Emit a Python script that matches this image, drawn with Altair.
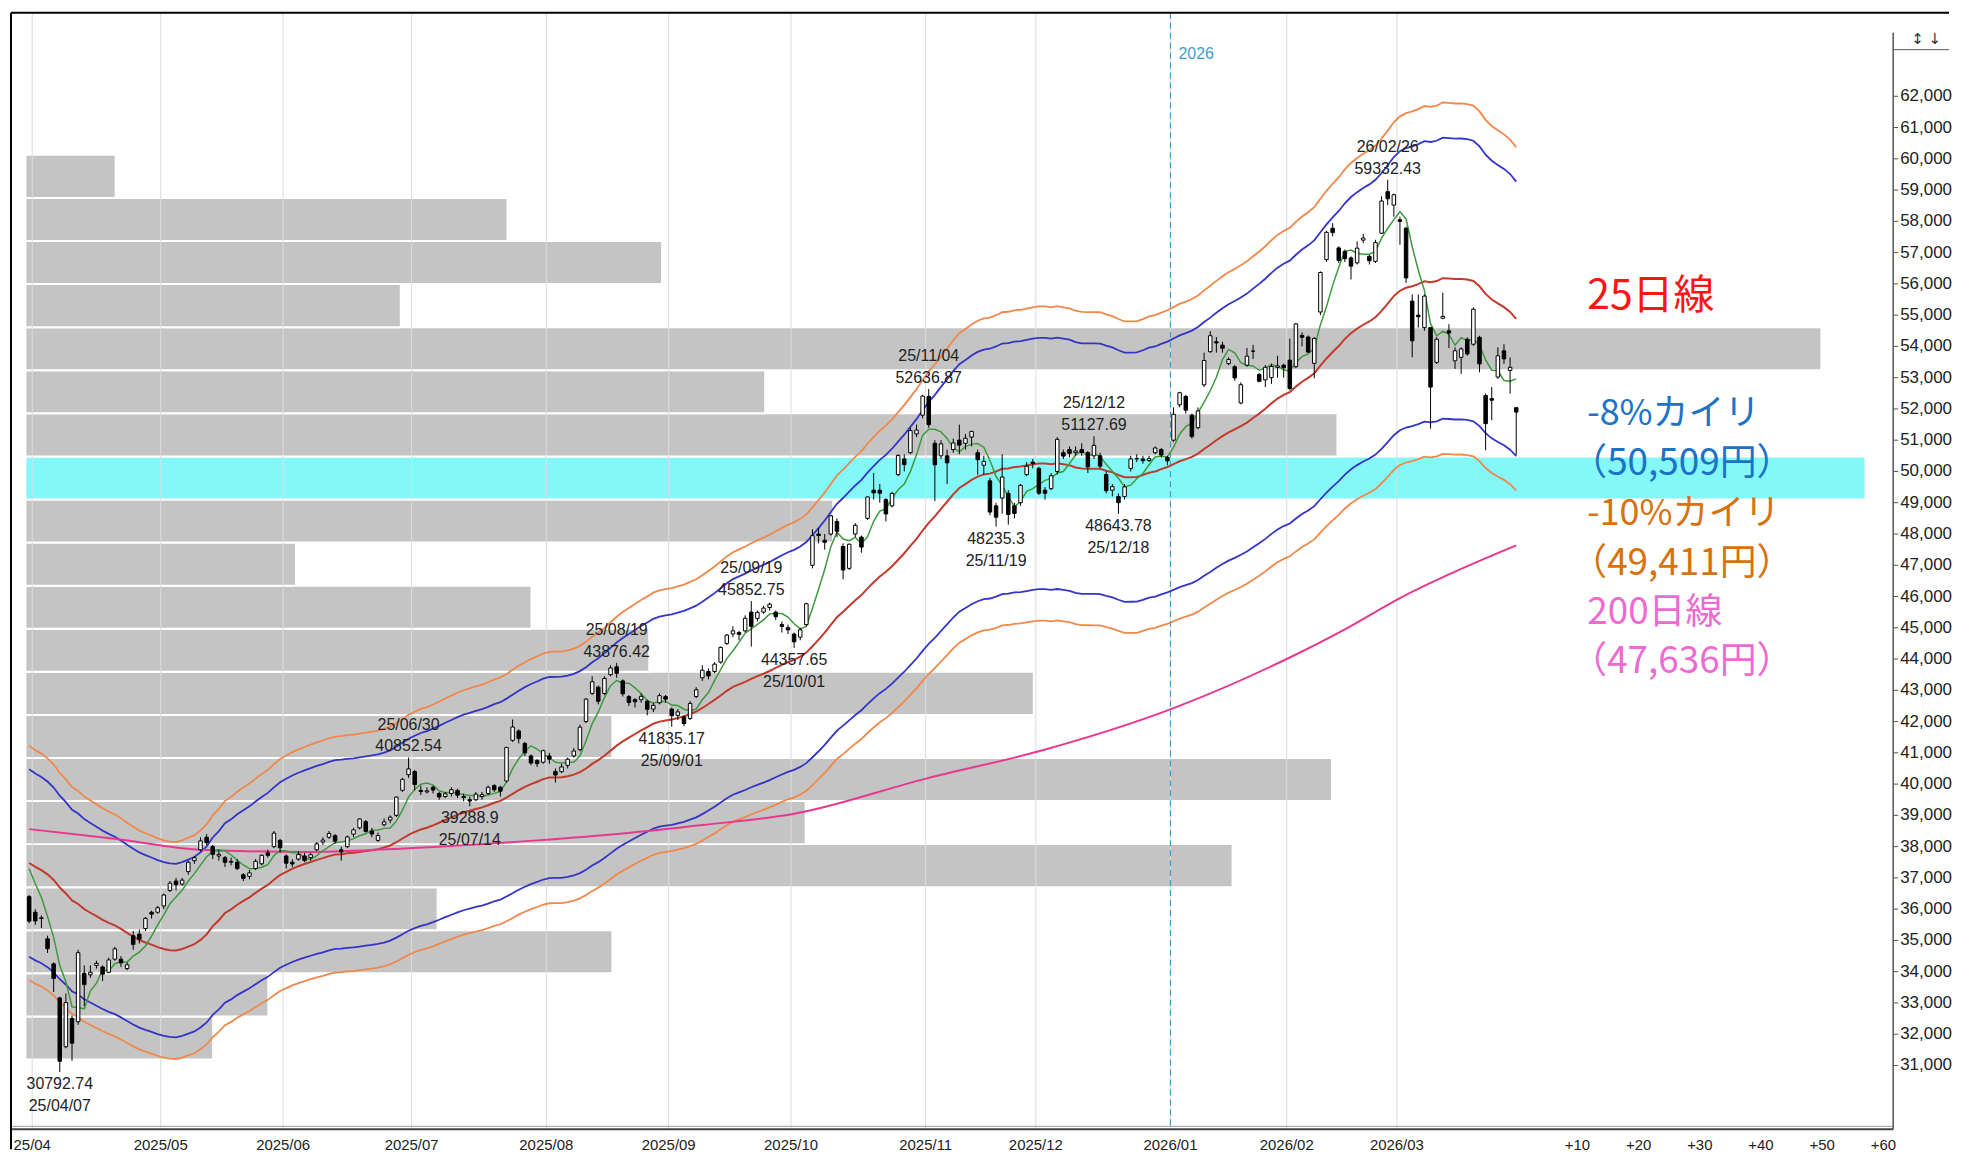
import altair as alt
import pandas as pd

# ---------------- data ----------------
opens = [36400,35900,35700,35050,34250,33160,31600,32500,32400,33950,33900,34200,34150,33980,34400,34400,34100,35150,35200,35380,
         35900,35900,36100,36600,36900,36800,37200,37550,37900,38300,38000,37700,37650,37500,37500,37100,37050,37300,37450,37800,
         38000,38200,37700,37500,37600,37700,37650,37900,38150,38300,38350,37900,38000,38400,38600,38800,38500,38200,38700,38850,
         39000,39800,40300,40400,39800,39750,39900,39700,39600,39700,39800,39600,39500,39500,39600,39700,39950,39900,40100,41400,
         41700,41300,40900,40750,40700,40900,40400,40400,40600,40900,41100,42000,42900,43100,42900,43500,43750,43300,42800,42700,
         42700,42650,42400,42600,42800,42400,42200,42150,42100,42800,43400,43600,43600,43900,44500,44800,44850,44900,45500,45300,
         45500,45650,45500,45100,45000,44800,44700,45100,47000,48000,47800,48000,48400,47600,46900,48000,47900,48500,49400,49400,
         49100,48900,49900,50400,50600,51200,51800,52400,50900,50500,50500,50700,51000,50900,51100,50600,50200,49700,48900,49150,
         49300,48900,49000,49900,50300,50100,49400,49450,50000,50600,50700,50600,50700,50600,50500,50500,49900,49400,49200,49200,
         50100,50400,50400,50350,50600,50700,50450,51000,52130,52400,51800,51400,52770,53830,54150,54040,53450,53350,52190,53400,
         53850,53100,52930,53000,53330,53400,53560,53350,54350,54300,53460,55100,56775,57780,57150,57040,56830,56670,57400,56880,
         56720,57620,58950,58520,58050,57780,55450,55000,54600,54600,53490,54900,54500,53540,53650,54230,54070,54290,52430,52330,
         53020,53860,53230,52040]
highs = [36450,36000,35800,35150,34300,33200,33300,32600,34700,34200,34200,34350,34200,34450,34800,34500,34300,35300,35350,35750,
         35950,36100,36500,36900,37000,37000,37550,37700,38300,38400,38050,37900,37700,37650,37600,37150,37250,37600,37750,37900,
         38500,38250,37750,37600,37850,37800,37800,38150,38300,38500,38400,38000,38350,38600,38900,38850,38600,38450,38900,39000,
         39600,40200,40852.54,40450,39950,39900,39950,39750,39750,39900,39850,39700,39600,39750,39750,39950,40000,39950,41200,42065,
         41750,41350,40950,40800,41100,41000,40500,40650,40850,41150,41900,42750,43450,43150,43450,43800,43876.42,43350,42850,42750,
         42900,42700,42600,42900,42850,42450,42400,42200,42650,43100,43800,43700,43900,44400,44800,45050,44900,45400,45852.75,45550,
         45700,45800,45550,45200,45100,44850,45000,45800,48150,48200,48000,48600,48500,47700,47700,48350,47950,49200,49950,49600,
         49150,49350,50550,50550,51400,51500,52450,52636.87,51000,51000,50700,51050,51500,51200,51300,50700,50500,49800,49000,50550,
         49400,49000,49600,50300,50400,50150,49500,49950,51100,50700,50800,50800,50900,50650,51127.69,50600,50000,49600,49300,49600,
         50500,50550,50500,50500,50800,50750,50500,52050,52550,52450,51850,52050,53800,54487,54300,54150,53650,53400,52850,53950,
         54050,53150,53400,53450,53700,53450,54250,54750,54450,54350,54300,56400,57700,57940,57200,57100,56880,57360,57600,56930,
         57410,58800,59332.43,58890,58150,57830,55660,55660,55660,54600,54290,55720,54710,53970,53970,54290,55250,54340,52490,52700,
         53970,54070,53650,52040]
lows = [35550,35500,35400,34600,33350,30792.74,31550,31150,32300,32900,33800,34100,33700,33950,34350,34150,34050,34700,34900,35300,
        35700,35850,36000,36550,36600,36750,37100,37450,37850,38050,37600,37550,37350,37400,37250,36900,36950,37250,37400,37650,
        37950,37800,37300,37350,37550,37500,37550,37850,38050,38250,38100,37550,37950,38300,38550,38450,38300,38150,38650,38750,
        38950,39750,40200,39800,39650,39700,39700,39500,39550,39600,39550,39450,39288.9,39450,39500,39650,39750,39600,40050,41350,
        41300,40900,40600,40550,40650,40650,40050,40350,40500,40850,41050,41950,42850,42550,42850,43450,43400,42800,42500,42450,
        42600,42200,42300,42550,42600,41835.17,42050,41850,42050,42750,43300,43350,43550,43850,44450,44700,44600,44850,44400,45200,
        45450,45550,45250,44850,44800,44357.65,44600,45050,46900,47700,47500,47950,47900,46550,46850,47900,47400,48450,49100,49000,
        48400,48850,49850,50000,50550,51100,51700,51400,49050,50400,49600,50600,50550,50700,50800,49900,49900,48600,48235.3,48650,
        48300,48500,48900,49850,50100,49250,49100,49400,49900,50400,50450,50500,50500,49950,50400,50100,49300,49200,48643.78,49100,
        50000,50300,50250,50300,50550,50450,50200,50950,52050,51850,51050,51350,52700,53800,53800,53800,53400,52900,52150,53350,
        53600,52850,52700,52800,53000,53000,52600,53300,54000,53800,52980,55000,56700,57520,56670,56700,56140,56620,57300,56620,
        56670,57600,58520,58150,57250,56030,53650,54600,54500,51370,53440,54870,53950,53280,53120,53700,54020,53170,50680,51640,
        52960,53440,52490,50530]
closes = [35617,35624,35725,34735,33780,31136,33012,31714,34609,33585,33982,34267,33920,34377,34730,34280,34220,34868,35039,35705,
          35839,36045,36452,36830,36779,36928,37503,37644,38183,38128,37755,37753,37498,37529,37298,36985,37160,37531,37724,37722,
          38432,37965,37470,37446,37747,37554,37741,38088,38211,38421,38173,37834,38311,38536,38885,38488,38403,38354,38790,38942,
          39584,40150,40487,39986,39762,39785,39810,39587,39688,39821,39646,39569,39459,39678,39663,39901,39819,39774,41171,41826,
          41456,40998,40674,40654,41069,40799,40290,40549,40794,41059,41820,42718,43274,42649,43378,43714,43546,42888,42610,42633,
          42807,42394,42520,42828,42718,42188,42310,41938,42580,43018,43643,43459,43837,44372,44768,44902,44790,45303,45045,45493,
          45630,45754,45354,45043,44932,44550,44936,45769,47944,47950,47734,48580,48088,46847,47672,48277,47582,49185,49316,49307,
          48641,49299,50512,50219,51307,51325,52411,51497,50212,50883,50276,50911,50842,51063,51281,50376,50323,48702,48537,49823,
          48625,48659,49559,50167,50253,49303,49303,49864,51028,50491,50581,50655,50602,50148,50836,50168,49383,49512,49001,49507,
          50402,50412,50344,50407,50750,50526,50339,51832,52518,51961,51117,51939,53549,54341,54110,53936,53583,52991,52774,53688,
          53846,52885,53333,53358,53375,53322,52655,54720,54293,53818,54253,56363,57650,57639,56750,56806,56566,57143,57467,56740,
          57321,58650,58720,58850,58000,56190,54180,54950,55610,52700,54230,54960,54430,53860,53920,53760,55190,53440,51530,52280,
          53700,53600,53330,51900]
# closes of the 24 sessions before the first candle (moving-average warm-up)
prior_closes = [38776.94,38237.79,38142.37,38256.17,37155.50,37785.47,37331.18,37418.24,37704.93,36887.17,37028.27,36793.11,
                36819.09,36790.03,37053.10,37396.52,37845.42,37751.88,37677.06,37608.49,38027.29,37890.00,37799.97,37120.33]

# 200-day line
ma200_idx = [0, 14, 28, 46, 62, 83, 97, 110, 125, 147, 165, 187, 206, 215, 224, 243]
ma200_val = [38560, 38250, 37900, 37830, 37950, 38200, 38420, 38690, 39050, 40200, 41050, 42430, 44050, 44950, 45950, 47636]

# volume-by-price profile (relative volume, largest bin = 100)
vp_low = [31190,32568,33946,35324,36702,38080,39458,40836,42214,43592,44970,46348,47726,49104,50482,51860,53238,54616,55994,57372,58750]
vp_high = [32568,33946,35324,36702,38080,39458,40836,42214,43592,44970,46348,47726,49104,50482,51860,53238,54616,55994,57372,58750,60128]
vp_vol = [10.2,13.2,31.9,22.4,65.6,42.4,71.0,31.9,54.8,33.9,27.5,14.7,43.9,100.0,71.3,40.2,97.6,20.4,34.6,26.2,4.9]
vp_hl = [False]*13 + [True] + [False]*7

month_ticks = [0.5, 21.5, 41.5, 62.5, 84.5, 104.5, 124.5, 146.5, 164.5, 186.5, 205.5, 223.5]
month_labels = ["25/04", "2025/05", "2025/06", "2025/07", "2025/08", "2025/09", "2025/10", "2025/11",
                "2025/12", "2026/01", "2026/02", "2026/03"]
future_ticks = [253, 263, 273, 283, 293, 303]
future_labels = ["+10", "+20", "+30", "+40", "+50", "+60"]
year_line = 186.5
y_ticks = list(range(31000, 62001, 1000))

ann_idx = [5, 62, 72, 96, 105, 118, 125, 147, 158, 174, 178, 222]
ann_price = [30792.74, 40852.54, 39288.9, 43876.42, 41835.17, 45852.75, 44357.65, 52636.87, 48235.3, 51127.69, 48643.78, 59332.43]
ann_value = ["30792.74", "40852.54", "39288.9", "43876.42", "41835.17", "45852.75", "44357.65", "52636.87",
             "48235.3", "51127.69", "48643.78", "59332.43"]
ann_date = ["25/04/07", "25/06/30", "25/07/14", "25/08/19", "25/09/01", "25/09/19", "25/10/01", "25/11/04",
            "25/11/19", "25/12/12", "25/12/18", "26/02/26"]
ann_side = ["below", "above", "below", "above", "below", "above", "below", "above", "below", "above", "below", "above"]

side_text = ["25日線", "-8%カイリ", "（50,509円）", "-10%カイリ", "（49,411円）", "200日線", "（47,636円）"]
side_y = [55584, 51821, 50227, 48632, 47038, 45475, 43913]
side_color = ["#ff1414", "#1b72c6", "#1b72c6", "#d8720f", "#d8720f", "#ec6ad2", "#ec6ad2"]
side_kind = ["big", "kana", "paren", "kana", "paren", "mid", "paren"]
side_x = 254.6
year_label_y = 63365

# ---------------- frames ----------------
N = len(closes)
candles = pd.DataFrame({"idx": list(range(N)), "open": opens, "high": highs, "low": lows, "close": closes})

all_close = pd.Series(prior_closes + closes, dtype=float)
k = len(prior_closes)
ma = pd.DataFrame({
    "idx": list(range(N)),
    "ma5": all_close.rolling(5).mean().iloc[k:].to_numpy(),
    "ma25": all_close.rolling(25).mean().iloc[k:].to_numpy(),
})
ma200 = pd.DataFrame({"idx": ma200_idx, "v": ma200_val})
vp = pd.DataFrame({"lo": vp_low, "hi": vp_high, "vol": vp_vol, "hl": vp_hl})
ann = pd.DataFrame({"idx": ann_idx, "price": ann_price, "val": ann_value, "date": ann_date, "side": ann_side})
side = pd.DataFrame({"t": side_text, "y": side_y, "c": side_color, "kind": side_kind})
mt = pd.DataFrame({"idx": month_ticks})
xt = pd.DataFrame({"idx": month_ticks + future_ticks, "lab": month_labels + future_labels})
yt = pd.DataFrame({"v": y_ticks})

# ---------------- scales ----------------
W, H = 1888, 1120
xs = alt.Scale(domain=[-2.97, 304.6], nice=False, zero=False, padding=0)
ys = alt.Scale(domain=[28958, 64672], nice=False, zero=False, padding=0)
FONT = "Liberation Sans"

# volume profile drawn on the index axis: starts just right of the frame, 100 = widest bar
VP_X0 = -0.61
VP_UNIT = 3.007

X = lambda f: alt.X(f, type="quantitative", scale=xs, axis=None)
Y = lambda f: alt.Y(f, type="quantitative", scale=ys, axis=None)

y_grid_axis = alt.Axis(values=y_ticks, grid=True, gridColor="#d6d6d6", gridWidth=1,
                       labels=False, ticks=False, domain=False, title="")

vol_layer = alt.Chart(vp).transform_calculate(
    x0=f"{VP_X0}", x1=f"{VP_X0} + datum.vol * {VP_UNIT}"
).mark_rect(stroke="white", strokeWidth=2).encode(
    x=X("x0"), x2="x1:Q",
    y=alt.Y("lo:Q", scale=ys, axis=y_grid_axis), y2="hi:Q",
    color=alt.condition("datum.hl", alt.value("#84f8f8"), alt.value("#c4c4c4")),
)

month_grid = alt.Chart(mt).mark_rule(color="#dcdcdc", strokeWidth=1).encode(x=X("idx"))
year_rule = alt.Chart(pd.DataFrame({"idx": [year_line]})).mark_rule(
    color="#3a9fd0", strokeWidth=1.2, strokeDash=[6, 4]).encode(x=X("idx"))
year_text = alt.Chart(pd.DataFrame({"idx": [year_line], "y": [year_label_y], "t": ["2026"]})).mark_text(
    align="left", baseline="middle", dx=8, fontSize=16, font=FONT, color="#3a9fd0").encode(
    x=X("idx"), y=Y("y"), text="t:N")

def ma_line(expr, color, width):
    return alt.Chart(ma).transform_calculate(v=expr).mark_line(color=color, strokeWidth=width).encode(
        x=X("idx"), y=Y("v"))

lines = [
    ma_line("datum.ma25 * 1.10", "#f0884a", 1.8),
    ma_line("datum.ma25 * 0.90", "#f0884a", 1.8),
    ma_line("datum.ma25 * 1.08", "#3434c8", 1.8),
    ma_line("datum.ma25 * 0.92", "#3434c8", 1.8),
    ma_line("datum.ma25", "#c23a2c", 2.0),
    alt.Chart(ma200).mark_line(color="#e8388e", strokeWidth=2, interpolate="monotone").encode(x=X("idx"), y=Y("v")),
    ma_line("datum.ma5", "#3c9a3c", 1.5),
]

wick = alt.Chart(candles).mark_rule(color="black", strokeWidth=1).encode(x=X("idx"), y=Y("low"), y2="high:Q")
body = alt.Chart(candles).mark_bar(size=3.5, stroke="black", strokeWidth=1).encode(
    x=X("idx"), y=Y("open"), y2="close:Q",
    fill=alt.condition("datum.close >= datum.open", alt.value("white"), alt.value("black")))

def ann_text(side_name, field, dy):
    return alt.Chart(ann).transform_filter(f"datum.side == '{side_name}'").mark_text(
        baseline="middle", align="center", dy=dy, fontSize=16, font=FONT, color="#222").encode(
        x=X("idx"), y=Y("price"), text=f"{field}:N")

anns = [ann_text("above", "val", -11), ann_text("above", "date", -33),
        ann_text("below", "val", 12), ann_text("below", "date", 34)]

def side_layer(kind, size, dx):
    return alt.Chart(side).transform_filter(f"datum.kind == '{kind}'").transform_calculate(
        x=str(side_x)).mark_text(align="left", baseline="middle", dx=dx, fontSize=size,
                                 font="Noto Sans CJK JP").encode(
        x=X("x"), y=Y("y"), text="t:N", color=alt.Color("c:N", scale=None))

sides = [side_layer("big", 41, 0), side_layer("kana", 36, 0), side_layer("mid", 37, 0),
         side_layer("paren", 37, -17)]

# ---- axes (drawn with the same scales) ----
x_labels = alt.Chart(xt).mark_text(fontSize=15, font=FONT, color="#222", baseline="middle", align="center").encode(
    x=X("idx"), y=alt.value(H + 16), text="lab:N")
y_labels = alt.Chart(yt).transform_calculate(t="format(datum.v, ',')").mark_text(
    fontSize=17, font=FONT, color="#222", baseline="middle", align="left").encode(
    x=alt.value(W + 7), y=Y("v"), text="t:N")
y_tickmarks = alt.Chart(yt).mark_rule(color="#555", strokeWidth=1).encode(
    x=alt.value(W), x2=alt.value(W + 5), y=Y("v"))

one = pd.DataFrame({"a": [0]})
frame = [
    alt.Chart(one).mark_rule(color="#999", strokeWidth=1).encode(x=alt.value(0), x2=alt.value(W), y=alt.value(H - 3)),
    alt.Chart(one).mark_rule(color="#444", strokeWidth=2).encode(x=alt.value(0), x2=alt.value(W), y=alt.value(H)),
    alt.Chart(one).mark_rule(color="#555", strokeWidth=1.5).encode(x=alt.value(W), y=alt.value(20), y2=alt.value(H)),
    alt.Chart(one).mark_rule(color="black", strokeWidth=2).encode(x=alt.value(0), y=alt.value(0), y2=alt.value(1140)),
    alt.Chart(one).mark_rule(color="black", strokeWidth=2).encode(x=alt.value(0), x2=alt.value(1944), y=alt.value(0)),
    alt.Chart(one).mark_rule(color="#555", strokeWidth=1).encode(x=alt.value(W), x2=alt.value(1944), y=alt.value(37)),
    alt.Chart(one).mark_text(fontSize=15, font="DejaVu Sans", color="#333", align="left", baseline="middle").encode(
        x=alt.value(W + 18), y=alt.value(26), text=alt.value("↕  ↓")),
]

chart = alt.layer(vol_layer, month_grid, year_rule, year_text, *lines, wick, body, *anns, *sides,
                  x_labels, y_labels, y_tickmarks, *frame).properties(
    width=W, height=H, padding={"left": 2, "top": 2, "right": 2, "bottom": 2}
).configure(font=FONT, background="white").configure_view(strokeWidth=0)

chart.save("out.html", embed_options={"renderer": "svg", "actions": False})
